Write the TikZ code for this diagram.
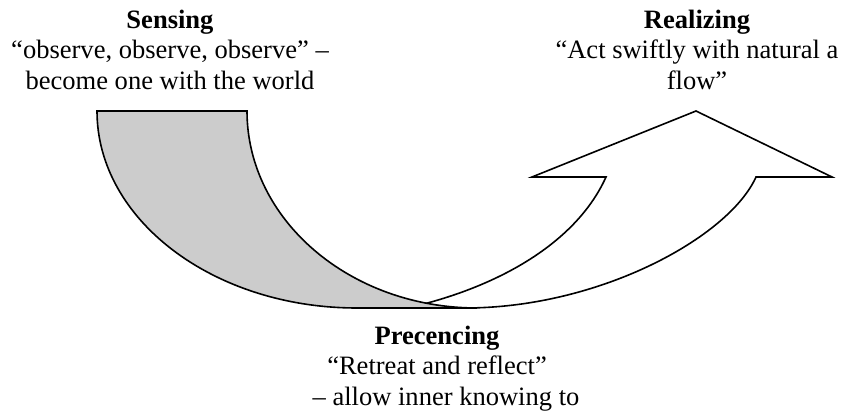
\documentclass[tikz,border=0pt]{standalone}
\usepackage{fontspec}
\setmainfont{Liberation Serif}
\usepackage{tikz}

\begin{document}
\begin{tikzpicture}[
x=0.75pt, y=-0.75pt,
phase/.style={
anchor=north,
align=center,
inner sep=0pt,
font=\fontsize{19.9}{22.8}\selectfont
},
outline/.style={draw=black, line width=1.2pt, line join=miter}
]
\useasboundingbox (0,0) rectangle (843,416);

% white arrow (behind)
\draw[outline, fill=white] (465,308) .. controls (600,308) and (729,237) .. (756,177)
  -- (832,177) -- (696,111) -- (532,177) -- (606,177)
  .. controls (579,237) and (510,282) .. (420,305);

% grey band
\draw[outline, fill=gray!40] (97,111) -- (247,111)
  .. controls (247,219.8) and (350,308) .. (477,308)
  -- (357,308) .. controls (213.4,308) and (97,219.8) .. (97,111) -- cycle;

% labels
\node[phase] (sensing) at (170,7)
{\textbf{Sensing}\strut\\“observe, observe, observe” –\\become one with the world};

\node[phase] (realizing) at (697,7)
{\textbf{Realizing}\strut\\“Act swiftly with natural a\\flow”};

\node[phase] (precencing) at (437,323)
{\textbf{Precencing}\strut\\“Retreat and reflect”};

\node[phase] (precnote) at (446,384)
{– allow inner knowing to\strut};

\end{tikzpicture}
\end{document}
